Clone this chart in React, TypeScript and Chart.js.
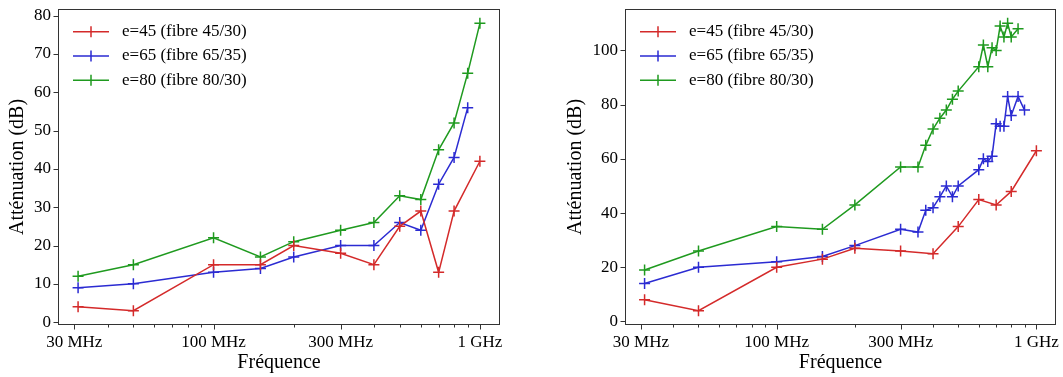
import React, { useEffect, useRef } from "react";
import { Chart, registerables } from "chart.js";

Chart.register(...registerables);

// ---------- data ----------
const SERIES_LABELS = ["e=45 (fibre 45/30)", "e=65 (fibre 65/35)", "e=80 (fibre 80/30)"];
const SERIES_COLORS = ["#d42a2a", "#2b2bd2", "#1f9a1f"];

// Left panel
const LEFT_E45_FREQ = [31, 50, 100, 150, 200, 300, 400, 500, 600, 700, 800, 1000];
const LEFT_E45_DB = [4, 3, 15, 15, 20, 18, 15, 25, 29, 13, 29, 42];
const LEFT_E65_FREQ = [31, 50, 100, 150, 200, 300, 400, 500, 600, 700, 800, 900];
const LEFT_E65_DB = [9, 10, 13, 14, 17, 20, 20, 26, 24, 36, 43, 56];
const LEFT_E80_FREQ = [31, 50, 100, 150, 200, 300, 400, 500, 600, 700, 800, 900, 1000];
const LEFT_E80_DB = [12, 15, 22, 17, 21, 24, 26, 33, 32, 45, 52, 65, 78];

// Right panel
const RIGHT_E45_FREQ = [31, 50, 100, 150, 200, 300, 400, 500, 600, 700, 800, 1000];
const RIGHT_E45_DB = [8, 4, 20, 23, 27, 26, 25, 35, 45, 43, 48, 63];
const RIGHT_E65_FREQ = [31, 50, 100, 150, 200, 300, 350, 375, 400, 425, 450, 475, 500, 600, 625, 650, 675, 700, 725, 750, 775, 800, 850, 900];
const RIGHT_E65_DB = [14, 20, 22, 24, 28, 34, 33, 41, 42, 46, 50, 46, 50, 56, 60, 59, 61, 73, 72, 72, 83, 76, 83, 78];
const RIGHT_E80_FREQ = [31, 50, 100, 150, 200, 300, 350, 375, 400, 425, 450, 475, 500, 600, 625, 650, 675, 700, 725, 750, 775, 800, 850];
const RIGHT_E80_DB = [19, 26, 35, 34, 43, 57, 57, 65, 71, 75, 78, 82, 85, 94, 102, 94, 101, 100, 109, 105, 110, 105, 108];

// Axes
const X_MAJOR_TICKS = [30, 100, 300, 1000];
const X_MAJOR_LABELS = ["30 MHz", "100 MHz", "300 MHz", "1 GHz"];
const X_MINOR_TICKS = [40, 50, 60, 70, 80, 90, 200, 400, 500, 600, 700, 800, 900];
const X_RANGE = [26.06, 1189.9];
const X_TITLE = "Fréquence";
const Y_TITLE = "Atténuation (dB)";

const LEFT_Y_TICKS = [0, 10, 20, 30, 40, 50, 60, 70, 80];
const LEFT_Y_RANGE = [-0.75, 81.75];
const RIGHT_Y_TICKS = [0, 20, 40, 60, 80, 100];
const RIGHT_Y_RANGE = [-1.3, 115.3];

const FONT = "'Liberation Serif', 'Times New Roman', serif";
const H = 377;

const decorPlugin = {
  id: "decor",
  afterDraw(chart: any) {
    const ctx = chart.ctx;
    const a = chart.chartArea;
    const xs = chart.scales.x;
    const ys = chart.scales.y;
    ctx.save();
    // frame
    ctx.strokeStyle = "#333";
    ctx.lineWidth = 1;
    const L = Math.round(a.left) + 0.5;
    const R = Math.round(a.right) - 0.5;
    const T = Math.round(a.top) + 0.5;
    const B = Math.round(a.bottom) - 0.5;
    ctx.strokeRect(L, T, R - L, B - T);
    // tick marks
    ctx.beginPath();
    xs.ticks.forEach((t: any) => {
      const px = Math.round(xs.getPixelForValue(t.value)) + 0.5;
      const len = X_MAJOR_TICKS.includes(t.value) ? 5 : 3;
      ctx.moveTo(px, B);
      ctx.lineTo(px, B + len);
    });
    ys.ticks.forEach((t: any) => {
      const py = Math.round(ys.getPixelForValue(t.value)) + 0.5;
      ctx.moveTo(L, py);
      ctx.lineTo(L - 5, py);
    });
    ctx.stroke();
    // legend
    ctx.font = `17px ${FONT}`;
    ctx.textBaseline = "middle";
    ctx.textAlign = "left";
    chart.data.datasets.forEach((ds: any, i: number) => {
      const y = a.top + 22.7 + i * 24.3;
      const x0 = a.left + 15;
      const x1 = a.left + 51;
      const xm = (x0 + x1) / 2;
      ctx.strokeStyle = ds.borderColor;
      ctx.lineWidth = 1.5;
      ctx.beginPath();
      ctx.moveTo(x0, y);
      ctx.lineTo(x1, y);
      ctx.moveTo(xm - 5.5, y);
      ctx.lineTo(xm + 5.5, y);
      ctx.moveTo(xm, y - 5.5);
      ctx.lineTo(xm, y + 5.5);
      ctx.stroke();
      ctx.fillStyle = "#000";
      ctx.fillText(ds.label, a.left + 64, y);
    });
    ctx.restore();
  },
};

type Series = { freq: number[]; db: number[] };

function Panel(props: {
  left: number;
  width: number;
  series: Series[];
  yRange: number[];
  yTicks: number[];
  yAxisWidth: number;
  padRight: number;
  yTitlePad: number;
}) {
  const ref = useRef<HTMLCanvasElement>(null);
  useEffect(() => {
    const allX = [...X_MAJOR_TICKS, ...X_MINOR_TICKS].sort((a, b) => a - b);
    const chart = new Chart(ref.current as HTMLCanvasElement, {
      type: "line",
      data: {
        datasets: props.series.map((s, i) => ({
          label: SERIES_LABELS[i],
          data: s.freq.map((f, j) => ({ x: f, y: s.db[j] })),
          borderColor: SERIES_COLORS[i],
          backgroundColor: SERIES_COLORS[i],
          borderWidth: 1.5,
          pointStyle: "cross",
          pointRadius: 5.5,
          pointHoverRadius: 5.5,
          pointBorderWidth: 1.5,
          tension: 0,
          fill: false,
        })),
      },
      options: {
        responsive: false,
        animation: false,
        devicePixelRatio: 1,
        events: [],
        layout: { padding: { top: 9, right: props.padRight, left: 0, bottom: 0 } },
        plugins: { legend: { display: false }, tooltip: { enabled: false } },
        scales: {
          x: {
            type: "logarithmic",
            position: "bottom",
            min: X_RANGE[0],
            max: X_RANGE[1],
            grid: { display: false, drawTicks: false },
            border: { display: false },
            afterBuildTicks: (s: any) => {
              s.ticks = allX.map((v) => ({ value: v }));
            },
            afterFit: (s: any) => {
              s.height = 52;
              s.paddingLeft = 0;
              s.paddingRight = 0;
            },
            ticks: {
              autoSkip: false,
              maxRotation: 0,
              minRotation: 0,
              padding: 7.5,
              color: "#000",
              font: { family: FONT, size: 17 },
              callback: (v: any) => {
                const i = X_MAJOR_TICKS.indexOf(Number(v));
                return i >= 0 ? X_MAJOR_LABELS[i] : "";
              },
            },
            title: {
              display: true,
              text: X_TITLE,
              color: "#000",
              font: { family: FONT, size: 20 },
              padding: { top: 0, bottom: 2 },
            },
          },
          y: {
            type: "linear",
            position: "left",
            min: props.yRange[0],
            max: props.yRange[1],
            grid: { display: false, drawTicks: false },
            border: { display: false },
            afterBuildTicks: (s: any) => {
              s.ticks = props.yTicks.map((v) => ({ value: v }));
            },
            afterFit: (s: any) => {
              s.width = props.yAxisWidth;
              s.paddingTop = 0;
              s.paddingBottom = 0;
            },
            ticks: {
              autoSkip: false,
              padding: 7,
              color: "#000",
              font: { family: FONT, size: 17 },
              callback: (v: any) => String(v),
            },
            title: {
              display: true,
              text: Y_TITLE,
              color: "#000",
              font: { family: FONT, size: 20 },
              padding: { top: props.yTitlePad, bottom: 0 },
            },
          },
        },
      } as any,
      plugins: [decorPlugin],
    });
    return () => chart.destroy();
  }, []);
  return (
    <canvas
      ref={ref}
      width={props.width}
      height={H}
      style={{ position: "absolute", left: props.left, top: 0, width: props.width, height: H }}
    />
  );
}

export default function App() {
  return (
    <div style={{ position: "fixed", left: 0, top: 0, width: 1063, height: H, background: "#fff" }}>
      <Panel
        left={0}
        width={531}
        series={[
          { freq: LEFT_E45_FREQ, db: LEFT_E45_DB },
          { freq: LEFT_E65_FREQ, db: LEFT_E65_DB },
          { freq: LEFT_E80_FREQ, db: LEFT_E80_DB },
        ]}
        yRange={LEFT_Y_RANGE}
        yTicks={LEFT_Y_TICKS}
        yAxisWidth={58}
        padRight={31}
        yTitlePad={6}
      />
      <Panel
        left={531}
        width={532}
        series={[
          { freq: RIGHT_E45_FREQ, db: RIGHT_E45_DB },
          { freq: RIGHT_E65_FREQ, db: RIGHT_E65_DB },
          { freq: RIGHT_E80_FREQ, db: RIGHT_E80_DB },
        ]}
        yRange={RIGHT_Y_RANGE}
        yTicks={RIGHT_Y_TICKS}
        yAxisWidth={94}
        padRight={6}
        yTitlePad={33}
      />
    </div>
  );
}
